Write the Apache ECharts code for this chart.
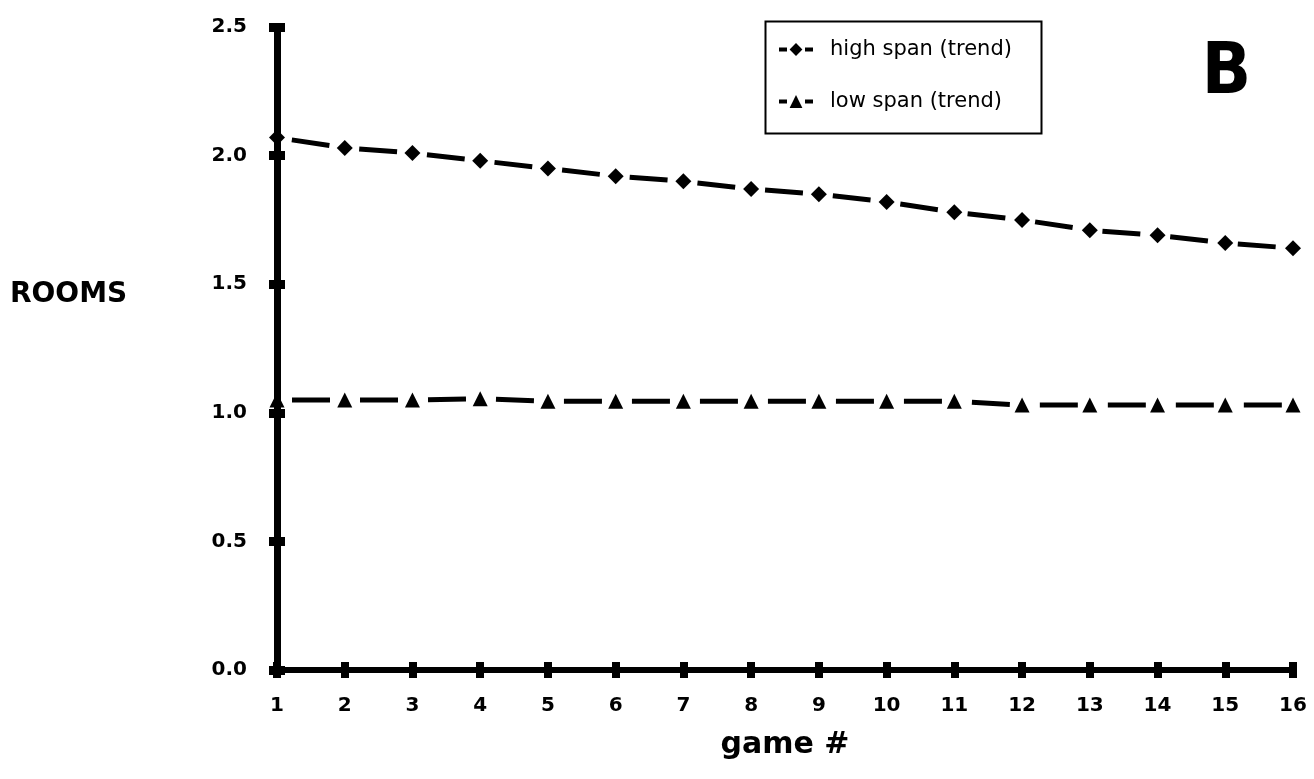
<!DOCTYPE html>
<html>
<head>
<meta charset="utf-8">
<script src="https://cdn.jsdelivr.net/npm/echarts@6/dist/echarts.min.js"></script>
<style>
  html, body { margin: 0; padding: 0; background: #fff; }
</style>
</head>
<body>
<div id="chart" style="width:1314px;height:779px"></div>
<script>
// game numbers on the x axis
let games = [1, 2, 3, 4, 5, 6, 7, 8, 9, 10, 11, 12, 13, 14, 15, 16]
// rooms
let highSpan = [2.07, 2.03, 2.01, 1.98, 1.95, 1.92, 1.90, 1.87, 1.85, 1.82, 1.78, 1.75, 1.71, 1.69, 1.66, 1.64]
let lowSpan = [1.05, 1.05, 1.05, 1.055, 1.045, 1.045, 1.045, 1.045, 1.045, 1.045, 1.045, 1.03, 1.03, 1.03, 1.03, 1.03]
let yTicks = ['0.0', '0.5', '1.0', '1.5', '2.0', '2.5']

let chart = echarts.init(document.getElementById('chart'))

let pair = (xs, ys) => xs.map((x, i) => [x, ys[i]])
let labelFont = { color: '#000', fontFamily: 'DejaVu Sans, sans-serif', fontWeight: 'bold', fontSize: 20 }

let baseX = { type: 'value', min: 1, max: 16, interval: 1, splitLine: { show: false }, position: 'bottom' }
let baseY = { type: 'value', min: 0, max: 2.5, interval: 0.5, splitLine: { show: false }, position: 'left' }
// gaps fall round each marker, one dash per segment
let dashed = { color: '#000', width: 5, type: [38, 30], dashOffset: 53 }

chart.setOption({
  animation: false,
  backgroundColor: '#fff',
  grid: { left: 277, right: 21, top: 27, bottom: 109 },
  title: {
    text: 'B',
    right: 58,
    top: 33,
    textStyle: { fontFamily: 'Liberation Sans Narrow, DejaVu Sans Condensed, sans-serif', fontWeight: 'bold', fontSize: 72, color: '#000' }
  },
  graphic: [
    { type: 'rect', left: 763, top: 19, shape: { width: 276, height: 112 }, style: { fill: 'none', stroke: '#000', lineWidth: 2 } },
    { type: 'text', left: 10, top: 281, style: { text: 'ROOMS', fill: '#000', font: 'bold 28px "DejaVu Sans", sans-serif' } }
  ],
  legend: {
    left: 772,
    top: 34,
    orient: 'vertical',
    itemGap: 31,
    itemWidth: 34,
    itemHeight: 16,
    lineStyle: { color: '#000', width: 4, type: [8, 18], dashOffset: 0 },
    textStyle: { fontFamily: 'DejaVu Sans, sans-serif', fontSize: 21, color: '#000', padding: [0, 0, 0, 12] },
    data: ['high span (trend)', 'low span (trend)']
  },
  xAxis: [
    Object.assign({}, baseX, {
      name: 'game #',
      nameLocation: 'middle',
      nameGap: 60,
      nameTextStyle: { fontFamily: 'DejaVu Sans, sans-serif', fontWeight: 'bold', fontSize: 30, color: '#000' },
      axisLine: { lineStyle: { color: '#000', width: 6 } },
      axisTick: { length: 8, lineStyle: { color: '#000', width: 8 } },
      axisLabel: Object.assign({ margin: 26 }, labelFont)
    }),
    Object.assign({}, baseX, {
      axisLine: { show: false },
      axisTick: { inside: true, length: 8, lineStyle: { color: '#000', width: 8 } },
      axisLabel: { show: false }
    })
  ],
  yAxis: [
    Object.assign({}, baseY, {
      axisLine: { lineStyle: { color: '#000', width: 7 } },
      axisTick: { length: 8, lineStyle: { color: '#000', width: 9 } },
      axisLabel: Object.assign({ margin: 30, formatter: (v) => yTicks[Math.round(v / 0.5)] }, labelFont)
    }),
    Object.assign({}, baseY, {
      axisLine: { show: false },
      axisTick: { inside: true, length: 8, lineStyle: { color: '#000', width: 9 } },
      axisLabel: { show: false }
    })
  ],
  series: [
    {
      name: 'high span (trend)',
      type: 'line',
      data: pair(games, highSpan),
      symbol: 'diamond',
      symbolSize: 16,
      itemStyle: { color: '#000' },
      lineStyle: dashed,
      z: 5
    },
    {
      name: 'low span (trend)',
      type: 'line',
      data: pair(games, lowSpan),
      symbol: 'triangle',
      symbolSize: 15,
      itemStyle: { color: '#000' },
      lineStyle: dashed,
      z: 5
    }
  ]
})
</script>
</body>
</html>
